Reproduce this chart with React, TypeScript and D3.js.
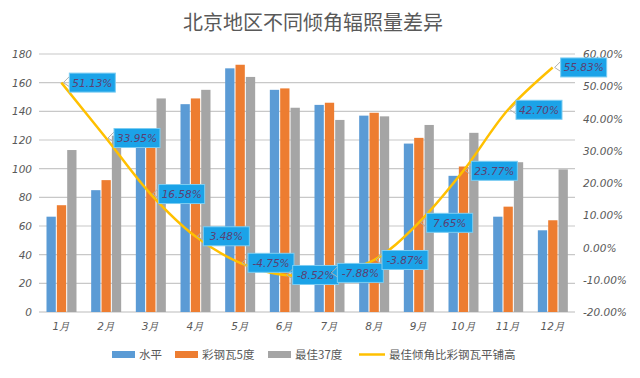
import React from "react";
import * as d3 from "d3";

const months = ["1月", "2月", "3月", "4月", "5月", "6月", "7月", "8月", "9月", "10月", "11月", "12月"];
const horizontal = [66.5, 85, 116, 145, 170, 155, 144.5, 137, 117.5, 95, 66.5, 57];
const steel5 = [74.5, 92, 127.5, 149, 172.5, 156, 146, 139, 121.5, 101.5, 73.5, 64];
const best37 = [113, 123, 149, 155, 164, 142.5, 134, 136.5, 130.5, 125, 104.5, 99.5];
const gainPct = [51.13, 33.95, 16.58, 3.48, -4.75, -8.52, -7.88, -3.87, 7.65, 23.77, 42.7, 55.83];
const leftTicks = [0, 20, 40, 60, 80, 100, 120, 140, 160, 180];
const rightTicks = [-20, -10, 0, 10, 20, 30, 40, 50, 60];
const seriesNames = ["水平", "彩钢瓦5度", "最佳37度"];
const lineName = "最佳倾角比彩钢瓦平铺高";
const colors = ["#5B9BD5", "#ED7D31", "#A5A5A5"];
const lineColor = "#FFC000";

const W = 640, H = 378;
const plotL = 39, plotR = 575, plotT = 54, plotB = 312;

export default function App() {
  const x = d3.scaleBand<string>().domain(months).range([plotL, plotR]).paddingInner(0).paddingOuter(0);
  const inner = d3.scaleBand<string>().domain(seriesNames).range([7.5, 37.5]).paddingInner(0.1).paddingOuter(0);
  const yL = d3.scaleLinear().domain([0, 180]).range([plotB, plotT]);
  const yR = d3.scaleLinear().domain([-20, 60]).range([plotB, plotT]);
  const seriesData = [horizontal, steel5, best37];
  const cx = (m: string) => (x(m) as number) + x.bandwidth() / 2;
  const line = d3.line<number>()
    .x((_, i) => cx(months[i]))
    .y((d) => yR(d))
    .curve(d3.curveCatmullRom.alpha(0.5));
  const numFont = "'DejaVu Sans', sans-serif";
  const txtColor = "#595959";

  const legendItems = [
    { x: 112, label: seriesNames[0], color: colors[0], type: "rect" },
    { x: 175, label: seriesNames[1], color: colors[1], type: "rect" },
    { x: 268, label: seriesNames[2], color: colors[2], type: "rect" },
    { x: 359, label: lineName, color: lineColor, type: "line" },
  ];

  return (
    <svg width={W} height={H} style={{ position: "absolute", left: 0, top: 0, background: "#fff" }}>
      <rect x={0} y={0} width={W} height={H} fill="#fff" />
      <text x={313} y={30} textAnchor="middle" fontSize={20} fill={txtColor}
        fontFamily="'Noto Sans CJK SC', sans-serif">北京地区不同倾角辐照量差异</text>

      {leftTicks.map((t) => (
        <g key={"g" + t}>
          <line x1={plotL} x2={plotR} y1={yL(t)} y2={yL(t)} stroke={t === 0 ? "#bcbcbc" : "#c8c8c8"} strokeWidth={1.2} />
          <text x={32} y={yL(t) + 4} textAnchor="end" fontSize={10.5} fontStyle="italic" fill={txtColor} fontFamily={numFont}>{t}</text>
        </g>
      ))}
      {rightTicks.map((t) => (
        <text key={"r" + t} x={583} y={yR(t) + 4} textAnchor="start" fontSize={10.5} fontStyle="italic" fill={txtColor} fontFamily={numFont}>
          {t.toFixed(2) + "%"}
        </text>
      ))}

      {months.map((m, i) => (
        <g key={m}>
          {seriesData.map((s, k) => (
            <rect key={k} x={(x(m) as number) + (inner(seriesNames[k]) as number)} y={yL(s[i])}
              width={inner.bandwidth()} height={yL(0) - yL(s[i])} fill={colors[k]} />
          ))}
          <text x={cx(m)} y={330} textAnchor="middle" fontSize={10.5} fill={txtColor} fontFamily={numFont} fontStyle="italic">{m}</text>
        </g>
      ))}

      <path d={line(gainPct) || ""} fill="none" stroke={lineColor} strokeWidth={2.5} />

      {gainPct.map((v, i) => {
        const px = cx(months[i]);
        const py = yR(v);
        const label = v.toFixed(2) + "%";
        const w = 46;
        const bx = px + 8;
        return (
          <g key={"l" + i}>
            <polyline points={`${bx},${py - 6} ${px + 2},${py} ${bx},${py + 4}`} fill="none" stroke="#b0b0b0" strokeWidth={1} />
            <rect x={bx} y={py - 9.5} width={w} height={19} fill="#1BA3E8" stroke="#7ccdf2" strokeWidth={1} />
            <text x={bx + w / 2} y={py + 4} textAnchor="middle" fontSize={10.5} fontStyle="italic"
              fill="#5b3f72" fontFamily={numFont}>{label}</text>
          </g>
        );
      })}

      {legendItems.map((it) => (
        <g key={it.label}>
          {it.type === "rect" ? (
            <rect x={it.x} y={351} width={23} height={7} fill={it.color} />
          ) : (
            <line x1={it.x} x2={it.x + 26} y1={354.5} y2={354.5} stroke={it.color} strokeWidth={2.5} />
          )}
          <text x={it.x + (it.type === "rect" ? 27 : 30)} y={359} fontSize={11.5} fill={txtColor}
            fontFamily="'Noto Sans CJK SC', sans-serif">{it.label}</text>
        </g>
      ))}
    </svg>
  );
}
